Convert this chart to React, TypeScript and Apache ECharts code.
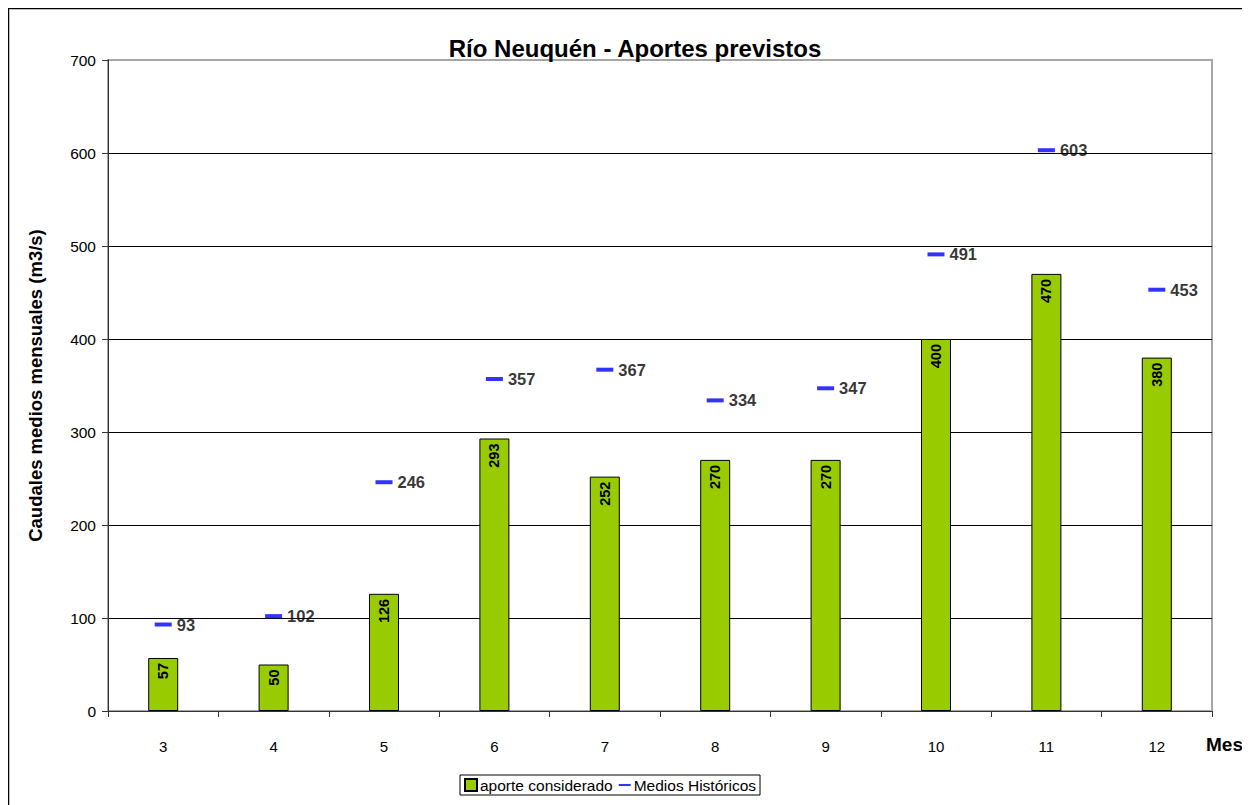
import React, { useEffect, useRef } from "react";
import * as echarts from "echarts";

const months = ["3", "4", "5", "6", "7", "8", "9", "10", "11", "12"];
const aporte = [57, 50, 126, 293, 252, 270, 270, 400, 470, 380];
const historicos = [93, 102, 246, 357, 367, 334, 347, 491, 603, 453];
const yTicks = [0, 100, 200, 300, 400, 500, 600, 700];

const FONT = "'Liberation Sans', Arial, sans-serif";

export default function App() {
  const ref = useRef<HTMLDivElement>(null);
  useEffect(() => {
    if (!ref.current) return;
    const chart = echarts.init(ref.current, null, { renderer: "svg" });
    chart.setOption({
      animation: false,
      backgroundColor: "#fff",
      textStyle: { fontFamily: FONT },
      title: {
        text: "Río Neuquén - Aportes previstos",
        left: 622,
        top: 23,
        textAlign: "center",
        textStyle: { fontSize: 24, fontWeight: "bold", color: "#000", fontFamily: FONT },
      },
      grid: {
        left: 100,
        top: 52,
        right: 46,
        bottom: 102,
        show: true,
        borderColor: "#a6a6a6",
        borderWidth: 2,
      },
      legend: {
        left: 452,
        top: 767,
        orient: "horizontal",
        borderColor: "#000",
        borderWidth: 1,
        padding: [2, 4, 2, 4],
        itemGap: 6,
        itemWidth: 12,
        itemHeight: 12,
        symbolKeepAspect: true,
        textStyle: { fontSize: 15.5, color: "#000", fontFamily: FONT, padding: [0, 0, 0, -2] },
        data: [
          { name: "aporte considerado", icon: "rect" },
          { name: "Medios Históricos", icon: "path://M0,0H17V3H0Z" },
        ],
      },
      xAxis: {
        type: "category",
        data: months,
        boundaryGap: true,
        axisLine: { lineStyle: { color: "#333", width: 1 } },
        axisTick: { show: true, length: 6, lineStyle: { color: "#333" } },
        axisLabel: { margin: 28, fontSize: 15, color: "#000", fontFamily: FONT },
      },
      yAxis: {
        type: "value",
        min: 0,
        max: 700,
        interval: 100,
        axisLine: { show: true, lineStyle: { color: "#333", width: 1 } },
        axisTick: { show: true, length: 6, lineStyle: { color: "#333" } },
        axisLabel: {
          margin: 12,
          fontSize: 15.5,
          color: "#000",
          fontFamily: FONT,
          formatter: (v: number) => (yTicks.includes(v) ? String(v) : ""),
        },
        splitLine: {
          show: true,
          lineStyle: {
            color: ["#000", "#000", "#000", "#000", "#000", "#000", "#000", "#a6a6a6"],
            width: 1,
          },
        },
        name: "Caudales medios mensuales (m3/s)",
        nameLocation: "middle",
        nameGap: 63,
        nameTextStyle: { fontSize: 18.5, fontWeight: "bold", color: "#000", fontFamily: FONT },
      },
      graphic: [
        {
          type: "rect",
          shape: { x: 0.5, y: 0.5, width: 1400, height: 1000 },
          style: { fill: "none", stroke: "#000", lineWidth: 1.5 },
          silent: true,
        },
        {
          type: "text",
          left: 1198,
          top: 727,
          style: { text: "Mes", fontSize: 19, fontWeight: "bold", fill: "#000", fontFamily: FONT },
        },
      ],
      series: [
        {
          name: "aporte considerado",
          type: "bar",
          data: aporte,
          barWidth: 30,
          itemStyle: { color: "#99cc00", borderColor: "#000", borderWidth: 1 },
          label: {
            show: true,
            position: "insideTop",
            rotate: 90,
            align: "right",
            verticalAlign: "middle",
            distance: 5,
            fontSize: 14.5,
            fontWeight: "bold",
            color: "#000",
            fontFamily: FONT,
          },
        },
        {
          name: "Medios Históricos",
          type: "scatter",
          data: historicos,
          symbol: "rect",
          symbolSize: [17, 4],
          itemStyle: { color: "#0000ff" },
          label: {
            show: true,
            position: "right",
            distance: 5,
            fontSize: 16.5,
            fontWeight: "bold",
            color: "#000",
            fontFamily: FONT,
          },
        },
      ],
    });
    return () => chart.dispose();
  }, []);
  return <div ref={ref} style={{ width: 1250, height: 805 }} />;
}
